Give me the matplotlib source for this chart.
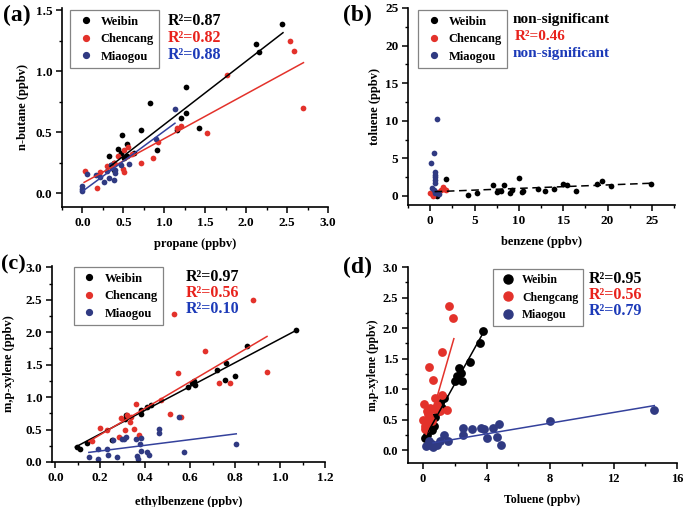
import matplotlib
matplotlib.use("Agg")
import matplotlib.pyplot as plt
from matplotlib.ticker import MultipleLocator
from matplotlib.lines import Line2D
import numpy as np

plt.rcParams['font.family'] = ['Liberation Serif', 'DejaVu Serif']
plt.rcParams['font.weight'] = 'bold'

BLACK = '#000000'
RED = '#e3322b'
NAVY = '#303a82'
FITBLUE = '#34419c'
BLUE_TXT = '#1c3ab8'

# ---------------- Panel (a): propane vs n-butane ----------------
a_weibin_x = [2.44, 2.12, 2.16, 1.26, 0.83, 1.27, 1.20, 1.16, 1.42, 0.72, 0.48, 0.43, 0.32, 0.55,
              0.47, 0.63, 0.91, 0.55, 0.39, 0.35, 0.39, 0.51]
a_weibin_y = [1.385, 1.227, 1.16, 0.867, 0.736, 0.655, 0.62, 0.52, 0.537, 0.52, 0.477, 0.363, 0.303, 0.40,
              0.33, 0.33, 0.35, 0.30, 0.245, 0.226, 0.19, 0.29]
a_chencang_x = [2.53, 2.59, 2.69, 1.76, 1.20, 1.52, 1.16, 0.92, 0.86, 0.71, 0.56, 0.51, 0.61, 0.03,
                0.22, 0.18, 0.51, 0.50, 0.39, 0.30, 0.43]
a_chencang_y = [1.25, 1.165, 0.695, 0.968, 0.553, 0.49, 0.53, 0.42, 0.29, 0.25, 0.38, 0.355, 0.32, 0.18,
                0.17, 0.04, 0.17, 0.20, 0.245, 0.22, 0.30]
a_miaogou_x = [1.13, 0.90, 0.0, 0.0, 0.0, 0.05, 0.16, 0.26, 0.30, 0.32, 0.39, 0.40, 0.40, 0.47,
               0.57, 0.22, 0.36, 0.35]
a_miaogou_y = [0.687, 0.44, 0.055, 0.02, 0.035, 0.155, 0.15, 0.09, 0.18, 0.12, 0.11, 0.165, 0.19, 0.23,
               0.24, 0.135, 0.205, 0.23]
# fitted lines: slope, intercept, x-start, x-end (Weibin, Chencang, Miaogou)
a_fit_slope = [0.52, 0.367, 0.495]
a_fit_icpt = [0.043, 0.08, 0.014]
a_fit_x0 = [0.34, 0.02, 0.0]
a_fit_x1 = [2.45, 2.70, 1.13]
a_r2 = ['R²=0.87', 'R²=0.82', 'R²=0.88']

# ---------------- Panel (b): benzene vs toluene ----------------
b_weibin_x = [1.8, 4.3, 5.3, 7.1, 7.5, 7.97, 8.3, 9.0, 9.2, 9.96, 10.3, 10.5, 12.1, 13.0, 14.0,
              15.0, 15.4, 16.4, 18.8, 19.4, 20.4, 24.9, 0.75]
b_weibin_y = [2.22, 0.13, 0.36, 1.47, 0.58, 0.71, 1.47, 0.44, 0.8, 2.44, 0.49, 0.71, 0.93, 0.71, 0.89,
              1.6, 1.51, 0.71, 1.6, 2.0, 1.38, 1.55, 0.05]
b_chencang_x = [0.0, 0.3, 1.4, 1.6, 1.2, 0.5, 0.9, 1.8, 0.2]
b_chencang_y = [0.44, 0.05, 1.24, 0.89, 0.8, 0.58, 0.53, 0.8, 0.27]
b_miaogou_x = [0.75, 0.38, 0.08, 0.5, 0.5, 0.5, 0.5, 0.2, 0.4, 0.75, 0.94, 0.56, 0.5]
b_miaogou_y = [10.26, 5.68, 4.35, 3.24, 2.8, 2.13, 1.78, 1.02, 0.8, 0.44, 0.27, 0.36, 2.5]
b_fit_slope = 0.046
b_fit_icpt = 0.55
b_fit_x0 = 0.5
b_fit_x1 = 25.0
b_notes = ['non-significant', 'R²=0.46', 'non-significant']

# ---------------- Panel (c): ethylbenzene vs m,p-xylene ----------------
c_weibin_x = [0.097, 0.109, 0.139, 0.253, 0.313, 0.309, 0.38, 0.383, 0.407, 0.425, 0.589, 0.607, 0.616,
              0.622, 0.72, 0.76, 0.756, 0.80, 0.854, 1.073]
c_weibin_y = [0.23, 0.20, 0.29, 0.34, 0.73, 0.67, 0.80, 0.74, 0.85, 0.88, 1.15, 1.22, 1.25,
              1.18, 1.42, 1.53, 1.27, 1.32, 1.79, 2.04]
c_chencang_x = [0.88, 0.53, 0.667, 0.544, 0.942, 0.73, 0.775, 0.47, 0.51, 0.56, 0.36, 0.294, 0.335,
                0.33, 0.31, 0.35, 0.37, 0.283, 0.20, 0.23, 0.164, 0.32]
c_chencang_y = [2.50, 2.28, 1.71, 1.37, 1.38, 1.21, 1.21, 0.96, 0.74, 0.70, 0.89, 0.68, 0.70,
                0.61, 0.50, 0.51, 0.41, 0.39, 0.52, 0.49, 0.33, 0.72]
c_miaogou_x = [0.149, 0.19, 0.19, 0.228, 0.234, 0.276, 0.256, 0.306, 0.316, 0.358, 0.383, 0.377,
               0.383, 0.365, 0.368, 0.41, 0.415, 0.462, 0.462, 0.549, 0.574, 0.805, 0.295]
c_miaogou_y = [0.077, 0.046, 0.20, 0.20, 0.11, 0.077, 0.34, 0.36, 0.38, 0.36, 0.37, 0.27,
               0.17, 0.087, 0.051, 0.16, 0.11, 0.51, 0.44, 0.70, 0.15, 0.27, 0.35]
c_fit_slope = [1.83, 2.04, 0.436]
c_fit_icpt = [0.067, 0.013, 0.083]
c_fit_x0 = [0.089, 0.149, 0.149]
c_fit_x1 = [1.073, 0.942, 0.805]
c_r2 = ['R²=0.97', 'R²=0.56', 'R²=0.10']

# ---------------- Panel (d): toluene vs m,p-xylene ----------------
d_weibin_x = [3.79, 3.58, 2.95, 2.25, 2.36, 2.15, 2.46, 2.04, 1.31, 1.09, 1.2, 0.93, 0.78, 0.67,
              0.46, 0.25, 0.15, 1.0, 0.55]
d_weibin_y = [1.95, 1.75, 1.45, 1.34, 1.26, 1.21, 1.125, 1.125, 0.85, 0.77, 0.69, 0.64, 0.55, 0.39,
              0.34, 0.255, 0.2, 0.72, 0.33]
d_chencang_x = [1.62, 1.89, 1.2, 0.36, 0.61, 1.2, 1.52, 0.08, 0.0, 0.29, 0.78, 0.88, 0.46, 0.25,
                0.29, 0.15, 0.57, 1.09, 0.7, 0.1, 0.4]
d_chencang_y = [2.36, 2.17, 1.61, 1.36, 1.15, 0.91, 0.66, 0.76, 0.5, 0.60, 0.85, 0.74, 0.69, 0.64,
                0.45, 0.34, 0.47, 0.64, 0.68, 0.4, 0.55]
d_miaogou_x = [14.57, 8.0, 4.78, 4.42, 3.87, 3.62, 3.1, 2.53, 2.53, 4.0, 4.63, 4.93, 1.56, 1.31,
               1.09, 0.88, 0.63, 0.42, 0.21, 0.36, 0.57]
d_miaogou_y = [0.66, 0.48, 0.43, 0.36, 0.34, 0.36, 0.34, 0.36, 0.255, 0.20, 0.21, 0.092, 0.147, 0.245,
               0.158, 0.082, 0.06, 0.09, 0.065, 0.147, 0.10]
d_fit_slope = [0.467, 0.90, 0.0438]
d_fit_icpt = [0.153, 0.08, 0.092]
d_fit_x0 = [0.1, 0.2, 0.63]
d_fit_x1 = [3.87, 1.94, 14.57]
d_r2 = ['R²=0.95', 'R²=0.56', 'R²=0.79']

sites_abc = ['Weibin', 'Chencang', 'Miaogou']
sites_d = ['Weibin', 'Chengcang', 'Miaogou']

W, H = 685, 507
fig = plt.figure(figsize=(W / 100, H / 100), dpi=100)


def make_ax(l, r, t, b):
    return fig.add_axes([l / W, 1 - b / H, (r - l) / W, (b - t) / H])


def style(ax, xlim, ylim, xmaj, xmin, ymaj, ymin, xfmt, yfmt, tsize=9.5):
    ax.set_xlim(*xlim)
    ax.set_ylim(*ylim)
    for s in ['top', 'right']:
        ax.spines[s].set_visible(False)
    for s in ['left', 'bottom']:
        ax.spines[s].set_linewidth(1.2)
    ax.xaxis.set_major_locator(MultipleLocator(xmaj))
    ax.xaxis.set_minor_locator(MultipleLocator(xmin))
    ax.yaxis.set_major_locator(MultipleLocator(ymaj))
    ax.yaxis.set_minor_locator(MultipleLocator(ymin))
    ax.tick_params(which='major', direction='out', length=4, width=1.1, labelsize=tsize, pad=3)
    ax.tick_params(which='minor', direction='out', length=2.5, width=1.0)
    ax.xaxis.set_major_formatter(plt.FuncFormatter(lambda v, p: xfmt.format(v)))
    ax.yaxis.set_major_formatter(plt.FuncFormatter(lambda v, p: yfmt.format(v)))
    for lab in ax.get_xticklabels() + ax.get_yticklabels():
        lab.set_fontweight('bold')


def legend(ax, names, ms, loc_bbox, fs=9):
    handles = [Line2D([], [], ls='none', marker='o', color=c, markersize=ms)
               for c in (BLACK, RED, NAVY)]
    lg = ax.legend(handles, names, loc='upper left', bbox_to_anchor=loc_bbox,
                   frameon=True, fancybox=False, edgecolor='#666666',
                   prop={'weight': 'bold', 'size': fs}, handletextpad=0.4,
                   borderpad=0.45, labelspacing=0.45, handlelength=1.6, borderaxespad=0)
    lg.get_frame().set_linewidth(0.9)
    return lg


def fit(ax, slope, icpt, x0, x1, color, ls='-'):
    xs = np.array([x0, x1])
    ax.plot(xs, slope * xs + icpt, color=color, lw=1.1, ls=ls, zorder=3)


txt_colors = [BLACK, '#e8221c', BLUE_TXT]
fit_colors = [BLACK, RED, FITBLUE]
label_kw = dict(fontsize=17, fontweight='bold')
axlab = dict(fontsize=9, fontweight='bold')
s_small = 17

# (a)
ax = make_ax(62, 328, 8, 207)
ax.scatter(a_weibin_x, a_weibin_y, s=s_small, color=BLACK, zorder=2, lw=0)
ax.scatter(a_chencang_x, a_chencang_y, s=s_small, color=RED, zorder=2, lw=0)
ax.scatter(a_miaogou_x, a_miaogou_y, s=s_small, color=NAVY, zorder=2, lw=0)
for i in range(3):
    fit(ax, a_fit_slope[i], a_fit_icpt[i], a_fit_x0[i], a_fit_x1[i], fit_colors[i])
style(ax, (-0.25, 3.0), (-0.115, 1.52), 0.5, 0.25, 0.5, 0.25, '{:.1f}', '{:.1f}')
ax.set_xlabel('propane (ppbv)', labelpad=7, **axlab)
ax.set_ylabel('n-butane (ppbv)', labelpad=5, **axlab)
legend(ax, sites_abc, 4.2, (0.03, 0.99))
for i, t in enumerate(a_r2):
    fig.text(168 / W, 1 - (21 + 17 * i) / H, t, color=txt_colors[i], fontsize=11.5,
             fontweight='bold', va='center', ha='left')
fig.text(3 / W, 1 - 15 / H, '(a)', va='center', ha='left', **label_kw)

# (b)
ax = make_ax(408, 675, 8, 205)
ax.scatter(b_weibin_x, b_weibin_y, s=s_small, color=BLACK, zorder=2, lw=0)
ax.scatter(b_chencang_x, b_chencang_y, s=s_small, color=RED, zorder=2, lw=0)
ax.scatter(b_miaogou_x, b_miaogou_y, s=s_small, color=NAVY, zorder=2, lw=0)
fit(ax, b_fit_slope, b_fit_icpt, b_fit_x0, b_fit_x1, BLACK, ls=(0, (5, 3)))
style(ax, (-2.5, 27.6), (-1.2, 25), 5, 2.5, 5, 2.5, '{:.0f}', '{:.0f}')
ax.set_xlabel('benzene (ppbv)', labelpad=7, **axlab)
ax.set_ylabel('toluene (ppbv)', labelpad=3, **axlab)
legend(ax, sites_abc, 4.2, (0.037, 0.99))
for i, t in enumerate(b_notes):
    fig.text((513 if i != 1 else 515) / W, 1 - (20 + 16.5 * i) / H, t, color=txt_colors[i],
             fontsize=11, fontweight='bold', va='center', ha='left')
fig.text(343 / W, 1 - 15 / H, '(b)', va='center', ha='left', **label_kw)

# (c)
ax = make_ax(52, 325, 266, 462)
ax.scatter(c_weibin_x, c_weibin_y, s=s_small, color=BLACK, zorder=2, lw=0)
ax.scatter(c_chencang_x, c_chencang_y, s=s_small, color=RED, zorder=2, lw=0)
ax.scatter(c_miaogou_x, c_miaogou_y, s=s_small, color=NAVY, zorder=2, lw=0)
for i in range(3):
    fit(ax, c_fit_slope[i], c_fit_icpt[i], c_fit_x0[i], c_fit_x1[i], fit_colors[i])
style(ax, (-0.015, 1.2), (0, 3.02), 0.2, 0.1, 0.5, 0.25, '{:.1f}', '{:.1f}')
ax.set_xlabel('ethylbenzene (ppbv)', labelpad=9, **axlab)
ax.set_ylabel('m,p-xylene (ppbv)', labelpad=8, **axlab)
legend(ax, sites_abc, 4.2, (0.08, 0.995))
for i, t in enumerate(c_r2):
    fig.text(186 / W, 1 - (277 + 16 * i) / H, t, color=txt_colors[i], fontsize=11.5,
             fontweight='bold', va='center', ha='left')
fig.text(1 / W, 1 - 264 / H, '(c)', va='center', ha='left', fontsize=16, fontweight='bold')

# (d)
ax = make_ax(408, 677, 267, 463)
s_big = 40
ax.scatter(d_weibin_x, d_weibin_y, s=s_big, color=BLACK, zorder=2, lw=0)
ax.scatter(d_chencang_x, d_chencang_y, s=s_big, color=RED, zorder=2, lw=0)
ax.scatter(d_miaogou_x, d_miaogou_y, s=s_big, color=NAVY, zorder=2, lw=0)
for i in range(3):
    fit(ax, d_fit_slope[i], d_fit_icpt[i], d_fit_x0[i], d_fit_x1[i], fit_colors[i])
style(ax, (-0.95, 16), (-0.21, 3.0), 4, 2, 0.5, 0.25, '{:.0f}', '{:.1f}', tsize=9)
ax.set_xlabel('Toluene (ppbv)', labelpad=7, fontsize=8.5, fontweight='bold')
ax.set_ylabel('m,p-xylene (ppbv)', labelpad=3, fontsize=8.5, fontweight='bold')
legend(ax, sites_d, 6.5, (0.316, 0.99), fs=8.5)
for i, t in enumerate(d_r2):
    fig.text(589 / W, 1 - (279 + 16 * i) / H, t, color=txt_colors[i], fontsize=11.5,
             fontweight='bold', va='center', ha='left')
fig.text(343 / W, 1 - 267 / H, '(d)', va='center', ha='left', **label_kw)

fig.savefig('out.png', dpi=100)
